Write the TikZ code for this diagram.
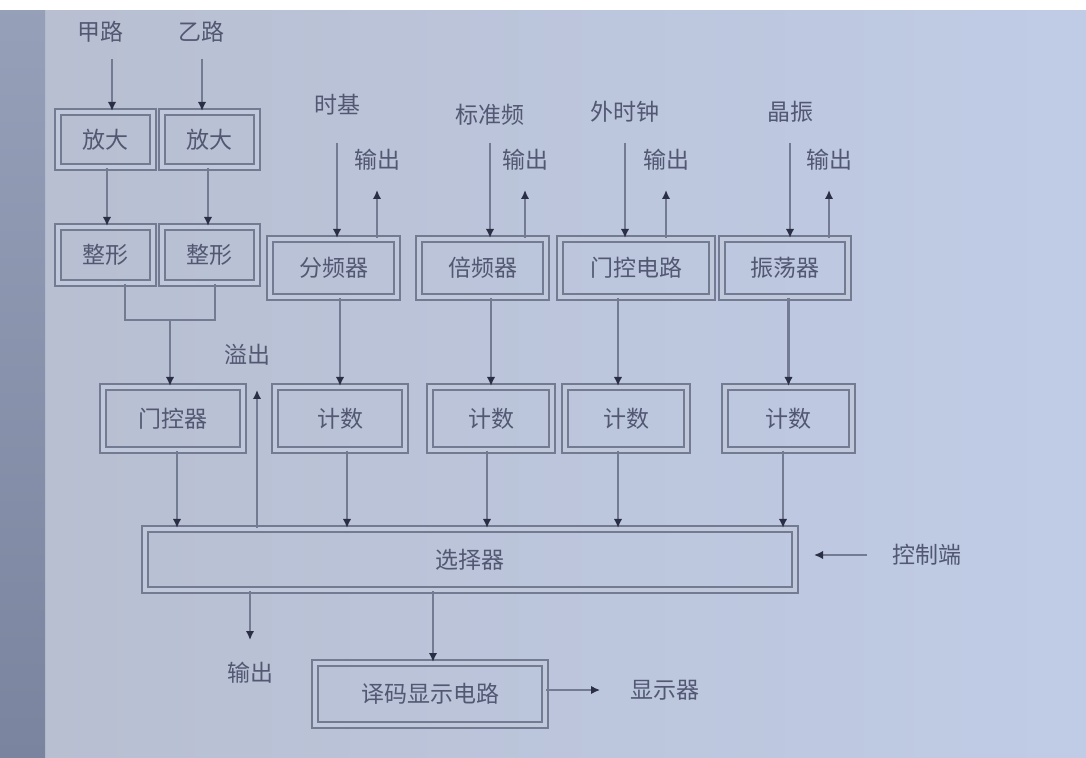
\documentclass[tikz,border=0pt]{standalone}
\usepackage{fontspec}
\setmainfont{Noto Sans CJK SC}
\usetikzlibrary{arrows.meta}
\definecolor{paperl}{RGB}{183,190,208}
\definecolor{paperr}{RGB}{192,204,230}
\definecolor{bandtop}{RGB}{150,160,185}
\definecolor{bandbot}{RGB}{122,132,158}
\definecolor{edge}{RGB}{115,123,146}
\definecolor{boxin}{RGB}{192,200,220}
\definecolor{ink}{RGB}{82,88,114}
\definecolor{tipc}{RGB}{42,47,70}

\begin{document}
\begin{tikzpicture}[x=0.5pt,y=-0.5pt,
  lbl/.style={text=ink,font=\fontsize{11.5}{13}\selectfont,inner sep=0pt},
  box/.style={lbl,draw=edge,line width=1pt,double=boxin,double distance=2.2pt},
  r1/.style={box,minimum width=47.5pt,minimum height=27.5pt},
  r2/.style={box,minimum height=29pt},
  r3/.style={box,minimum height=31.5pt},
  line/.style={draw=edge,line width=1.2pt},
  arr/.style={line,-{Latex[length=4.5pt,width=4.2pt,color=tipc]}}]
\useasboundingbox (0,0) rectangle (1086,758);
\fill[left color=paperl,right color=paperr] (0,0) rectangle (1086,758);
\fill[top color=bandtop,bottom color=bandbot] (0,0) rectangle (45,758);
\fill[white] (0,0) rectangle (1086,10);

\node[lbl] (in1) at (100,32) {甲路};
\node[lbl] (in2) at (201,32) {乙路};
\node[r1] (a1) at (105.5,139.5) {放大};
\node[r1] (a2) at (209.5,139.5) {放大};
\node[r1,minimum height=28pt] (b1) at (105.5,255) {整形};
\node[r1,minimum height=28pt] (b2) at (209.5,255) {整形};

\node[lbl] (t3) at (337,105) {时基};
\node[lbl] (t4) at (490,115) {标准频};
\node[lbl] (t5) at (625,112) {外时钟};
\node[lbl] (t6) at (790,112) {晶振};
\node[lbl] (s3) at (377,160) {输出};
\node[lbl] (s4) at (525,160) {输出};
\node[lbl] (s5) at (666,160) {输出};
\node[lbl] (s6) at (829,160) {输出};
\node[r2,minimum width=63.5pt] (c3) at (333.5,268) {分频器};
\node[r2,minimum width=63.5pt] (c4) at (482.5,268) {倍频器};
\node[r2,minimum width=76pt] (c5) at (636,268) {门控电路};
\node[r2,minimum width=63pt] (c6) at (785,268) {振荡器};

\node[lbl] (s1) at (247,355) {溢出};
\node[r3,minimum width=70pt] (d1) at (173,418.5) {门控器};
\node[r3,minimum width=65pt] (d2) at (340,418.5) {计数};
\node[r3,minimum width=61pt] (d3) at (491,418.5) {计数};
\node[r3,minimum width=61pt] (d4) at (626,418.5) {计数};
\node[r3,minimum width=63.5pt] (d5) at (788.5,418.5) {计数};

\node[box,minimum width=325pt,minimum height=30.5pt] (sel) at (470,559.5) {选择器};
\node[lbl] (ctl) at (927,555) {控制端};
\node[lbl] (out) at (250,673) {输出};
\node[box,minimum width=115pt,minimum height=31pt] (dec) at (430,694) {译码显示电路};
\node[lbl] (disp) at (665,690) {显示器};
\coordinate (join) at (170,320);

\draw[arr] ([xshift=6pt,yshift=-8pt]in1.south) -- ([xshift=3.25pt]a1.north);
\draw[arr] ([xshift=0.5pt,yshift=-8pt]in2.south) -- ([xshift=-3.75pt]a2.north);
\draw[arr] ([xshift=0.75pt]a1.south) -- ([xshift=0.75pt]b1.north);
\draw[arr] ([xshift=-0.75pt]a2.south) -- ([xshift=-0.75pt]b2.north);
\draw[line] ([xshift=9.75pt]b1.south) |- (join);
\draw[line] ([xshift=2.75pt]b2.south) |- (join);
\draw[arr] (join) -- (join |- d1.north);

\draw[arr] ([yshift=-19pt]t3.center) -- (t3 |- c3.north);
\draw[arr] ([yshift=-14pt]t4.center) -- (t4 |- c4.north);
\draw[arr] ([yshift=-15.5pt]t5.center) -- (t5 |- c5.north);
\draw[arr] ([yshift=-15.5pt]t6.center) -- (t6 |- c6.north);
\draw[arr,shorten >=15pt] (s3 |- c3.north) -- (s3.center);
\draw[arr,shorten >=15pt] (s4 |- c4.north) -- (s4.center);
\draw[arr,shorten >=15pt] (s5 |- c5.north) -- (s5.center);
\draw[arr,shorten >=15pt] (s6 |- c6.north) -- (s6.center);

\draw[arr] (d2.north |- c3.south) -- (d2.north);
\draw[arr] (d3.north |- c4.south) -- (d3.north);
\draw[arr] ([xshift=-4pt]d4.north |- c5.south) -- ([xshift=-4pt]d4.north);
\draw[arr] (d5.north |- c6.south) -- (d5.north);

\draw[arr] ([xshift=2pt]d1.south) -- ([xshift=2pt]d1.south |- sel.north);
\draw[arr] ([xshift=3.5pt]d2.south) -- ([xshift=3.5pt]d2.south |- sel.north);
\draw[arr] ([xshift=-2pt]d3.south) -- ([xshift=-2pt]d3.south |- sel.north);
\draw[arr] ([xshift=-4pt]d4.south) -- ([xshift=-4pt]d4.south |- sel.north);
\draw[arr] ([xshift=-2.75pt]d5.south) -- ([xshift=-2.75pt]d5.south |- sel.north);
\draw[arr,shorten >=17.5pt] ([xshift=5pt]s1.center |- sel.north) -- ([xshift=5pt]s1.center);

\draw[arr,shorten <=12.5pt,shorten >=9pt] (ctl) -- (ctl -| sel.east);
\draw[arr,shorten >=16.5pt] (out |- sel.south) -- (out.center);
\draw[arr] ([xshift=1.5pt]dec.north |- sel.south) -- ([xshift=1.5pt]dec.north);
\draw[arr,shorten >=15pt] (dec.east |- disp) -- (disp);
\end{tikzpicture}
\end{document}
